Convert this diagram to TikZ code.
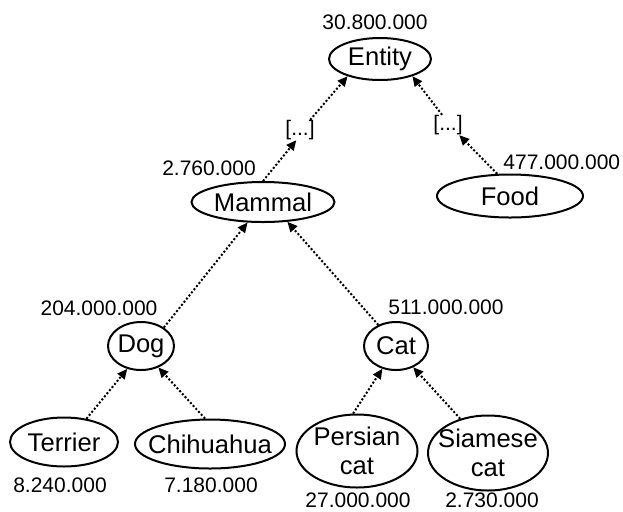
\documentclass[tikz,border=0pt]{standalone}
\usepackage{fontspec}
\setmainfont{Liberation Sans}
\usetikzlibrary{shapes.geometric,arrows.meta}
\tikzset{
  ctext/.style={inner sep=0pt,align=center,font=\fontsize{12.8}{14.5}\selectfont},
  concept/.style={ellipse,draw,line width=1pt,inner sep=0pt,label={[ctext]center:#1}},
  isa/.style={line width=1pt,dash pattern=on 1pt off 1pt,-{Triangle[length=5pt,width=4.5pt]}},
  count/.style={inner sep=0pt},
}
\begin{document}
\begin{tikzpicture}[x=0.5pt,y=-0.5pt,font=\fontsize{10.5}{14}\selectfont]
            \useasboundingbox (0,0) rectangle (623,511);
            % conceptos
            \node[concept={Entity},minimum width=51pt,minimum height=21pt] (entity) at (380,59) {};
            \node[concept={Mammal},minimum width=71.5pt,minimum height=20pt] (mammal) at (263,202) {};
            \node[concept={Food},minimum width=73pt,minimum height=21.5pt] (food) at (510,196) {};
            \node[concept={Dog},minimum width=33pt,minimum height=24pt] (dog) at (141,346) {};
            \node[concept={Cat},minimum width=32pt,minimum height=24pt] (cat) at (396,346) {};
            \node[concept={Terrier},minimum width=54pt,minimum height=24.5pt] (terrier) at (64,442) {};
            \node[concept={Chihuahua},minimum width=75pt,minimum height=24.5pt] (chihuahua) at (210,444) {};
            \node[concept={Persian\\cat},minimum width=60.5pt,minimum height=36.5pt] (persian) at (357,451) {};
            \node[concept={Siamese\\cat},minimum width=60pt,minimum height=37.5pt] (siamese) at (488,453) {};
            \node[count] (dotsl) at (300,130) {[...]};
            \node[count] (dotsr) at (448,125) {[...]};
            % frecuencias
            \node[count] (nentity) at (375,22) {30.800.000};
            \node[count] (nmammal) at (209,168) {2.760.000};
            \node[count,anchor=west] (nfood) at (503,162) {477.000.000};
            \node[count] (ndog) at (99,308) {204.000.000};
            \node[count] (ncat) at (446,307) {511.000.000};
            \node[count] (nterrier) at (60,485) {8.240.000};
            \node[count] (nchihuahua) at (211,485) {7.180.000};
            \node[count] (npersian) at (358,500) {27.000.000};
            \node[count] (nsiamese) at (492,500) {2.730.000};
            % relaciones
            \draw[isa] (terrier.46) -- (dog.239);
            \draw[isa] (chihuahua.101) -- (dog.309);
            \draw[isa] (persian.96) -- (cat.239);
            \draw[isa] (siamese.129) -- (cat.309);
            \draw[isa] (dog.39) -- (mammal.233);
            \draw[isa] (cat.130) -- (mammal.321);
            \draw[isa] (mammal.north) -- (dotsl.250);
            \draw[isa] (dotsl.45) -- (entity.208);
            \draw[isa] (food.120) -- (dotsr.318);
            \draw[isa] (dotsr.120) -- (entity.332);
\end{tikzpicture}
\end{document}
